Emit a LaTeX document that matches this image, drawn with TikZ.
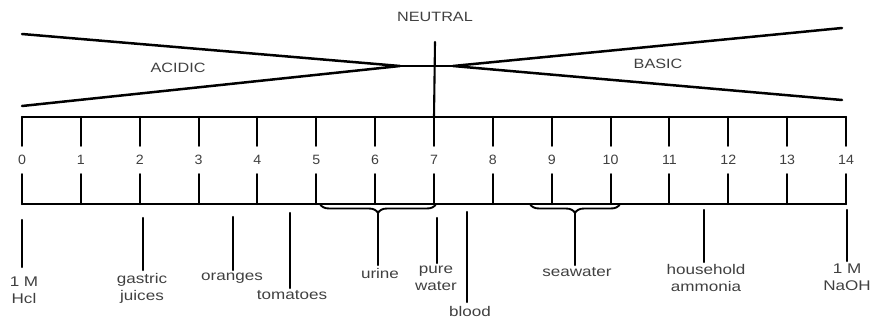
\documentclass[tikz,border=0pt]{standalone}
\usepackage{fontspec}
\setmainfont{Liberation Sans}
\newfontfamily\capfont[FakeStretch=1.2]{Liberation Sans}
\newfontfamily\lblfont[FakeStretch=1.22]{Liberation Sans}
\newfontfamily\numfont[FakeStretch=1.05]{Liberation Sans}
\usetikzlibrary{decorations.pathreplacing}
\definecolor{inkgray}{gray}{0.25}
\tikzset{
  rule/.style={line width=2.1pt, line cap=round},
  xline/.style={line width=2.5pt, line cap=round},
  captxt/.style={inner sep=0pt, text=inkgray, font=\capfont\fontsize{13.5}{15}\selectfont},
  numtxt/.style={inner sep=0pt, minimum height=28pt, text=inkgray, font=\numfont\fontsize{13.5}{15}\selectfont},
  lbltxt/.style={inner sep=0pt, align=center, text=inkgray, font=\lblfont\fontsize{14}{17}\selectfont},
  bracestyle/.style={line width=1.9pt, decorate, decoration={brace, amplitude=9pt}}
}
\begin{document}
\begin{tikzpicture}[x=1pt, y=-1pt]
\useasboundingbox (0,0) rectangle (870,324);
% titles
\node[captxt] (neutral) at (435,17) {NEUTRAL};
\node[captxt] (acidic) at (178,68) {ACIDIC};
\node[captxt] (basic) at (658,64) {BASIC};
% X lines
\coordinate (ul) at (22,34);
\coordinate (ll) at (22,106);
\coordinate (ml) at (400,66);
\coordinate (mr) at (453,66);
\coordinate (ur) at (842,28);
\coordinate (lr) at (842,100);
\draw[xline] (ul) -- (ml) -- (ll);
\draw[xline] (ml) -- (mr);
\draw[xline] (ur) -- (mr) -- (lr);
% neutral line
\coordinate (ntop) at (435,42);
% box
\coordinate (boxtl) at (22,117);
\coordinate (boxtr) at (846,117);
\coordinate (boxbl) at (22,204);
\coordinate (boxbr) at (846,204);
\draw[rule] (boxtl) -- (boxtr);
\draw[rule] (boxbl) -- (boxbr);
\foreach \i in {0,...,14} {
  \coordinate (t\i) at ({22+58.857*\i},117);
  \coordinate (b\i) at ({22+58.857*\i},204);
  \node[numtxt] (n\i) at ({22+58.857*\i},160) {\i};
  \draw[rule] (t\i) -- (n\i.north);
  \draw[rule] (n\i.south) -- (b\i);
}
\draw[rule] (ntop) -- (t7);
% braces
\coordinate (br1a) at (436,204);
\coordinate (br1b) at (320,204);
\coordinate (br2a) at (620,204);
\coordinate (br2b) at (530,204);
\draw[bracestyle] (br1a) -- (br1b);
\draw[bracestyle] (br2a) -- (br2b);
% labels
\node[lbltxt, anchor=north] (hcl) at (24,277) {1 M\\Hcl};
\node[lbltxt, anchor=north] (gastric) at (142,273) {gastric\\juices};
\node[lbltxt, anchor=north] (oranges) at (232,273) {oranges};
\node[lbltxt, anchor=north] (tomatoes) at (292,290) {tomatoes};
\node[lbltxt, anchor=north] (urine) at (380,268) {urine};
\node[lbltxt, anchor=north] (purewater) at (436,266) {pure\\water};
\node[lbltxt, anchor=north] (blood) at (470,306) {blood};
\node[lbltxt, anchor=north] (seawater) at (577,267) {seawater};
\node[lbltxt, anchor=north] (ammonia) at (706,264) {household\\ammonia};
\node[lbltxt, anchor=north] (naoh) at (847,264) {1 M\\NaOH};
% label lines
\coordinate (lh1) at (22,220);   \coordinate (lh2) at (22,267);
\coordinate (lg1) at (143,218);  \coordinate (lg2) at (143,270);
\coordinate (lo1) at (233,217);  \coordinate (lo2) at (233,270);
\coordinate (lt1) at (290,213);  \coordinate (lt2) at (290,288);
\coordinate (lu1) at (378,214);  \coordinate (lu2) at (378,265);
\coordinate (lp1) at (437,218);  \coordinate (lp2) at (437,263);
\coordinate (lb1) at (467,212);  \coordinate (lb2) at (467,302);
\coordinate (ls1) at (575,213);  \coordinate (ls2) at (575,265);
\coordinate (la1) at (704,210);  \coordinate (la2) at (704,262);
\coordinate (ln1) at (847,210);  \coordinate (ln2) at (847,261);
\foreach \p in {h,g,o,t,u,p,b,s,a,n} {
  \draw[rule] (l\p1) -- (l\p2);
}
\end{tikzpicture}
\end{document}
